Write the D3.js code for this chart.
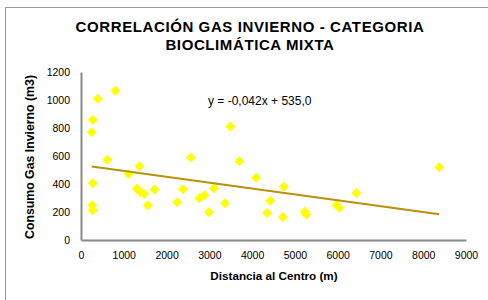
<!DOCTYPE html>
<html><head><meta charset="utf-8">
<script src="https://cdn.jsdelivr.net/npm/d3@7"></script>
<style>body{margin:0;background:#fff}svg{display:block}text{font-family:"Liberation Sans",Arial,sans-serif}</style>
</head><body>
<script>
const distancia = [274,250,391,805,617,274,258,274,1117,1367,1305,1383,1477,1562,1719,2250,2383,2570,2766,2883,2992,3109,3367,3492,3703,4094,4742,4422,4352,4719,5227,5266,5977,6039,6438,8375];
const consumo   = [859,769,1009,1066,574,405,248,212,471,526,367,343,329,248,360,269,362,590,298,319,198,369,262,810,562,445,381,281,193,164,202,183,250,231,336,519];
const xTicks = [0,1000,2000,3000,4000,5000,6000,7000,8000,9000];
const yTicks = [0,200,400,600,800,1000,1200];
const slope = -0.042, intercept = 535.0;
const titleLines = ["CORRELACIÓN GAS INVIERNO - CATEGORIA","BIOCLIMÁTICA MIXTA"];

const W=488,H=300;
const svg=d3.select("body").append("svg").attr("width",W).attr("height",H);
svg.append("rect").attr("x",5.5).attr("y",7.5).attr("width",500).attr("height",400)
  .attr("fill","none").attr("stroke","#999").attr("stroke-width",1);

const x=d3.scaleLinear().domain([0,9000]).range([81,466]);
const y=d3.scaleLinear().domain([0,1200]).range([240,72]);

const ya=svg.append("g").attr("transform","translate(81,0)")
  .call(d3.axisLeft(y).tickValues(yTicks).tickSize(0).tickPadding(11).tickFormat(d3.format("d")));
ya.select(".domain").attr("stroke","#888").attr("stroke-width",2);
ya.selectAll("text").attr("font-size",10.5).attr("fill","#000");
const xa=svg.append("g").attr("transform","translate(0,240)")
  .call(d3.axisBottom(x).tickValues(xTicks).tickSize(0).tickPadding(12).tickFormat(d3.format("d")));
xa.select(".domain").attr("stroke","#888").attr("stroke-width",2);
xa.selectAll("text").attr("font-size",10.5).attr("fill","#000");

const diamond="M0,-5L5,0L0,5L-5,0Z";
svg.append("g").selectAll("path").data(distancia.map((d,i)=>[d,consumo[i]])).join("path")
  .attr("d",diamond).attr("transform",d=>`translate(${x(d[0])},${y(d[1])})`).attr("fill","#FFFF00");

const xmin=d3.min(distancia), xmax=d3.max(distancia);
svg.append("line").attr("x1",x(xmin)).attr("y1",y(slope*xmin+intercept))
  .attr("x2",x(xmax)).attr("y2",y(slope*xmax+intercept))
  .attr("stroke","#B8900A").attr("stroke-width",2);

svg.append("text").attr("x",208).attr("y",105).attr("font-size",12).text("y = -0,042x + 535,0");

svg.append("g").selectAll("text").data(titleLines).join("text")
  .attr("x",250).attr("y",(d,i)=>32+i*18).attr("text-anchor","middle")
  .attr("font-size",15).attr("letter-spacing",0.6).attr("font-weight","bold").text(d=>d);

svg.append("text").attr("x",274).attr("y",280).attr("text-anchor","middle")
  .attr("font-size",11.7).attr("font-weight","bold").text("Distancia al Centro (m)");
svg.append("text").attr("transform","translate(34,157) rotate(-90)").attr("text-anchor","middle")
  .attr("font-size",12.3).attr("font-weight","bold").text("Consumo Gas Invierno (m3)");
</script>
</body></html>
